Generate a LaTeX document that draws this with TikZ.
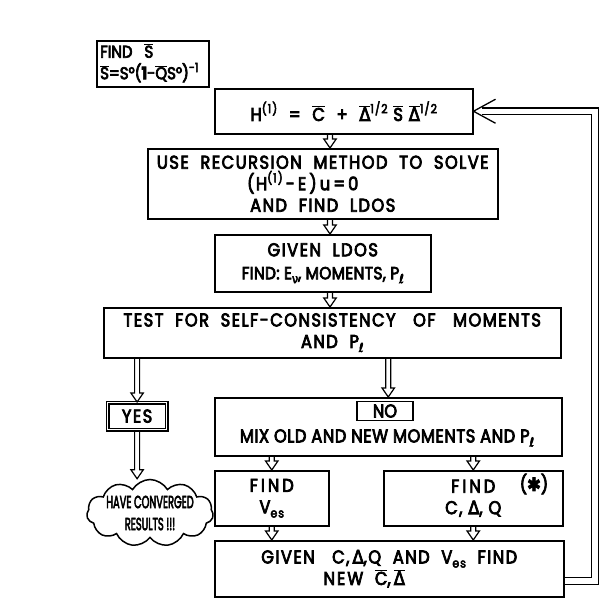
\documentclass[tikz,border=0pt]{standalone}
\usepackage{fontspec}
\usepackage{graphicx}
\setmainfont{Poppins}[LetterSpace=8, FakeBold=4, FakeStretch=0.88]
\newfontfamily\grk{DejaVu Sans}[FakeBold=4, FakeStretch=0.88]
\usetikzlibrary{shapes.symbols,calc}
% overlined symbol
\newcommand\ob[1]{$\overline{\hbox{#1}}$}
\newcommand\Dl{{\grk Δ}}
\newcommand\sps[1]{\raisebox{0.42em}{\fontsize{12.5}{12.5}\selectfont #1}}
\newcommand\sbs[1]{\raisebox{-0.22em}{\fontsize{12.5}{12.5}\selectfont #1}}
\newcommand\Pl{P\sbs{\grk ℓ}}
\newcommand\Ves{V\sbs{es}}
\newcommand\Enu{E\sbs{\grk ν}}
\newcommand\ls[1]{\addfontfeature{LetterSpace=#1}}
% hollow downward arrow: shaft at the x of #1, tip at the y of #2
\newcommand\harr[2]{\draw[arrline] let \p1=#1, \p2=#2 in
  ({\x1-2.5pt},\y1) -- ({\x1-2.5pt},{\y2+9pt}) -- ({\x1-6.2pt},{\y2+9pt})
  -- (\x1,\y2) -- ({\x1+6.2pt},{\y2+9pt}) -- ({\x1+2.5pt},{\y2+9pt})
  -- ({\x1+2.5pt},\y1);}
\begin{document}
\begin{tikzpicture}[x=1pt,y=-1pt,
  box/.style={draw, line width=1.5pt, align=center, inner sep=0pt,
    anchor=north west, font=\fontsize{18.5}{21.5}\selectfont},
  arrline/.style={line width=1.2pt, line join=miter},
  dbl/.style={draw, line width=1.3pt, double=white, double distance=5.5pt},
  lbl/.style={inner sep=0pt, font=\fontsize{18.5}{21.5}\selectfont}]
\useasboundingbox (0,0) rectangle (599,608);
\fill[white] (0,0) rectangle (599,608);

% boxes
\node[box, minimum width=112, minimum height=46] (sfind) at (96,40) {};
\node[lbl, anchor=west, align=left, font=\fontsize{17}{21.5}\selectfont\ls{0}]
  (sfindt) at (100,63) {FIND\ \ \ \ob{S}\\\ob{S}=S°({\bfseries 1}-\ob{Q}S°)\sps{-1}};
\node[box, minimum width=258, minimum height=45] (h) at (214,88)
  {H\sps{(1)}\ \ =\ \ \ob{C}\ \ +\ \ \ob{\Dl}\sps{1/2}\ \ob{S}\ \ob{\Dl}\sps{1/2}};
\node[box, minimum width=350, minimum height=70] (rec) at (147,148)
  {USE\ \ RECURSION\ \ METHOD\ \ TO\ \ SOLVE\\
   \hspace*{-40pt}(H\sps{(1)}\,-\,E\,)\,u\,=\,0\\AND\ \ FIND\ \ LDOS};
\node[box, minimum width=216, minimum height=57, font=\fontsize{18.5}{23}\selectfont]
  (ldos) at (214,234)
  {GIVEN\ \ LDOS\\{\fontsize{17.5}{23}\selectfont\ls{2}FIND:\ \Enu,\ MOMENTS,\ \Pl}};
\node[box, minimum width=457, minimum height=50] (test) at (103,307)
  {TEST\ \ FOR\ \ SELF-CONSISTENCY\ \ \ OF\ \ \ MOMENTS\\AND\ \ \Pl};
\node[box, minimum width=59, minimum height=27, double, double distance=1.6pt,
  line width=1.2pt] (yes) at (107,402) {YES};
\node[box, minimum width=347, minimum height=58] (mix) at (214,397) {};
\node[box, minimum width=56, minimum height=19, anchor=center,
  font=\fontsize{18.5}{21}\selectfont\ls{0}] (no) at (385,411) {NO};
\node[lbl, font=\fontsize{18.5}{21}\selectfont\ls{3}] (mixt) at (387,438)
  {MIX OLD AND NEW MOMENTS AND \Pl};
\node[box, minimum width=114, minimum height=55] (ves) at (214,470)
  {F\kern3pt I\kern3pt N\kern3pt D\\\Ves};
\node[box, minimum width=179, minimum height=55] (cf) at (383,470)
  {F\kern3pt I\kern3pt N\kern3pt D\\C,\ \Dl,\ Q};
\node[lbl] (star) at (534,484) {({\grk ✱})};
\node[box, minimum width=349, minimum height=56] (given) at (214,540)
  {GIVEN\ \ \ C,\,\Dl,Q\ \ AND\ \ \Ves\ \ FIND\\
   \hspace*{-50pt}N\kern2pt E\kern2pt W\ \ \ob{C},\,\ob{\Dl}};
\node[cloud, draw, line width=1.5pt, cloud puffs=11, cloud puff arc=120,
  cloud ignores aspect, minimum width=116, minimum height=67, align=center,
  inner sep=0pt, font=\fontsize{17.5}{22}\selectfont\ls{0}] (cloud) at (150,513)
  {\scalebox{0.64}[1]{HAVE CONVERGED}\\\scalebox{0.64}[1]{RESULTS !!!}};

% flow arrows
\coordinate (ax) at (330,0);
\harr{(ax |- h.south)}{(ax |- rec.north)}
\harr{(ax |- rec.south)}{(ax |- ldos.north)}
\harr{(ax |- ldos.south)}{(ax |- test.north)}
\harr{(yes.north |- test.south)}{(yes.north)}
\harr{(mix.north |- test.south)}{(mix.north)}
\harr{(yes.south)}{(yes.south |- cloud.north)}
\harr{(ves.north |- mix.south)}{(ves.north)}
\harr{(cf.north |- mix.south)}{(cf.north)}
\harr{(ves.south)}{(ves.south |- given.north)}
\harr{(cf.south)}{(cf.south |- given.north)}

% feedback loop back to the Hamiltonian
\coordinate (rt) at (595,0);
\draw[dbl, shorten >=8pt] ($(given.east)+(0,12)$) -| (rt |- h.east) -- (h.east);
\draw[line width=1.3pt] ($(h.east)+(22,-12)$) -- (h.east) -- ($(h.east)+(22,12)$);
\end{tikzpicture}
\end{document}
